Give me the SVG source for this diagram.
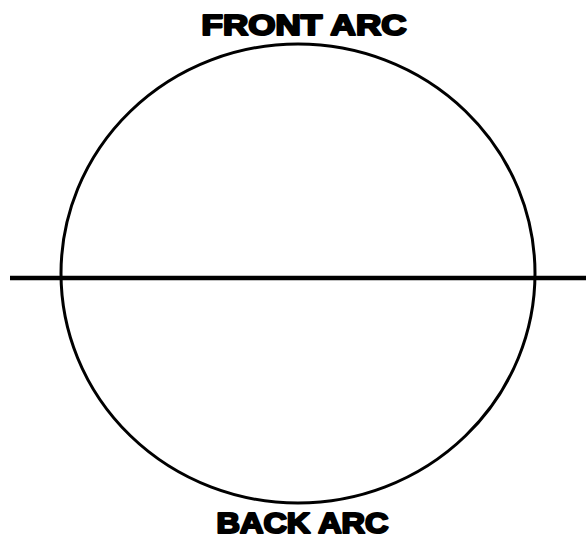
<svg xmlns="http://www.w3.org/2000/svg" width="586" height="538" viewBox="0 0 586 538">
<style>
.lbl{font-family:"Liberation Sans",Arial,sans-serif;font-weight:bold;font-size:29px;fill:#000;stroke:#000;stroke-width:2.2;stroke-linejoin:round;text-anchor:middle}
</style>
<rect width="586" height="538" fill="#fff"/>
<g id="circle">
<ellipse cx="298" cy="273.5" rx="237" ry="229.5" fill="none" stroke="#000" stroke-width="3"/>
</g>
<g id="connectors">
<line x1="10" y1="278" x2="586" y2="278" stroke="#000" stroke-width="4.5"/>
</g>
<g id="front">
<text class="lbl" x="304" y="34.5" textLength="205" lengthAdjust="spacingAndGlyphs">FRONT ARC</text>
</g>
<g id="back">
<text class="lbl" x="302.5" y="532.5" textLength="172" lengthAdjust="spacingAndGlyphs">BACK ARC</text>
</g>
</svg>
